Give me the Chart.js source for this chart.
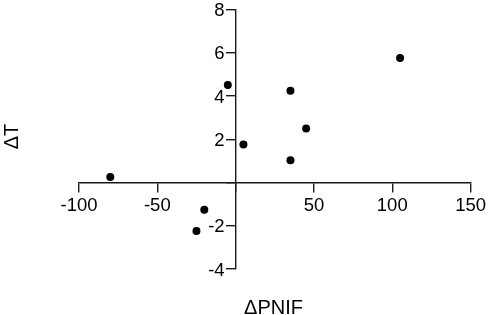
<!DOCTYPE html>
<html>
<head>
<meta charset="utf-8">
<script src="https://cdn.jsdelivr.net/npm/chart.js@4/dist/chart.umd.min.js"></script>
<style>
  html, body { margin: 0; padding: 0; background: #fff; }
  #wrap { width: 489px; height: 315px; }
</style>
</head>
<body>
<div id="wrap"><canvas id="scatter" width="489" height="315"></canvas></div>
<script>
// values
const pnif = [-80, -20, -25, -5, 5, 35, 45, 35, 105];
const dT   = [0.25, -1.26, -2.24, 4.5, 1.75, 4.24, 2.5, 1.03, 5.75];

const xTicks = [-100, -50, 0, 50, 100, 150];
const yTicks = [-4, -2, 0, 2, 4, 6, 8];

const xTitle = "\u0394PNIF";
const yTitle = "\u0394T";

const ink = "#000";
const line = "#1a1a1a";
const FONT = "'Liberation Sans', Arial, Helvetica, sans-serif";
const TICK_LEN = 9;
const Y_PAD = 2;

const points = pnif.map((x, i) => ({ x: x, y: dT[i] }));

// a y axis placed at x=0 puts its labels right on the line,
// so push them left past the tick marks
const yLabelShift = {
  id: "yLabelShift",
  beforeDraw(c) {
    const s = c.scales.y;
    const items = s.getLabelItems(c.chartArea);
    items.forEach(it => {
      if (it._shifted) return;
      it.options.translation[0] -= TICK_LEN + Y_PAD;
      it.options.translation[1] += 1.5;
      it._shifted = true;
    });
  }
};

// axis titles sit away from the crossing axes, so they are drawn here
const titles = {
  id: "titles",
  afterDraw(c) {
    const g = c.ctx;
    g.save();
    g.fillStyle = ink;
    g.font = "20px " + FONT;
    g.textAlign = "center";
    g.textBaseline = "alphabetic";
    g.fillText(xTitle, 273.5, 313.5);
    g.translate(17.5, 136.5);
    g.rotate(-Math.PI / 2);
    g.fillText(yTitle, 0, 0);
    g.restore();
  }
};

const axisStyle = {
  grid: { drawOnChartArea: false, drawTicks: true, tickLength: TICK_LEN, color: line, lineWidth: 1.4 },
  border: { display: true, color: line, width: 1.4 }
};

new Chart(document.getElementById("scatter"), {
  type: "scatter",
  data: {
    datasets: [{
      data: points,
      pointRadius: 4,
      pointHoverRadius: 4,
      pointBackgroundColor: "#000",
      pointBorderWidth: 0
    }]
  },
  options: {
    responsive: false,
    animation: false,
    events: [],
    layout: { padding: { left: 79, right: 17.5, top: 8.3, bottom: 46 } },
    plugins: { legend: { display: false }, tooltip: { enabled: false } },
    scales: {
      x: {
        type: "linear",
        position: { y: 0 },
        min: xTicks[0],
        max: xTicks[xTicks.length - 1],
        afterBuildTicks: s => { s.ticks = xTicks.map(v => ({ value: v })); },
        ticks: {
          color: ink,
          padding: 3,
          font: { family: FONT, size: 18.5 },
          callback: v => (v === 0 ? "" : String(v))
        },
        ...axisStyle
      },
      y: {
        type: "linear",
        position: { x: 0 },
        min: yTicks[0],
        max: yTicks[yTicks.length - 1],
        afterBuildTicks: s => { s.ticks = yTicks.map(v => ({ value: v })); },
        ticks: {
          color: ink,
          padding: Y_PAD,
          font: { family: FONT, size: 18.5, lineHeight: 0.8 },
          callback: v => (v === 0 ? "" : String(v))
        },
        ...axisStyle
      }
    }
  },
  plugins: [yLabelShift, titles]
});
</script>
</body>
</html>
